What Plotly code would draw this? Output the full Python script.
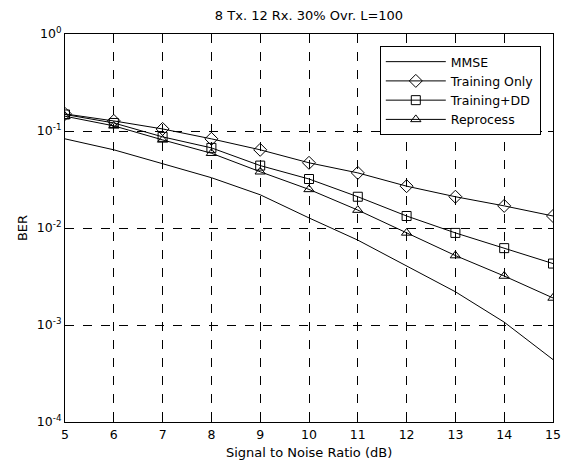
import plotly.graph_objects as go

snr = [5, 6, 7, 8, 9, 10, 11, 12, 13, 14, 15]
mmse = [0.083, 0.064, 0.046, 0.033, 0.022, 0.0127, 0.0075, 0.0041, 0.0022, 0.00107, 0.00044]
training_only = [0.150, 0.127, 0.105, 0.083, 0.064, 0.047, 0.037, 0.027, 0.021, 0.0169, 0.0133]
training_dd = [0.148, 0.121, 0.087, 0.067, 0.044, 0.032, 0.021, 0.0133, 0.0089, 0.0062, 0.0043]
reprocess = [0.142, 0.113, 0.081, 0.059, 0.038, 0.025, 0.0153, 0.0089, 0.0052, 0.0032, 0.0019]

ytick_vals = [1e-4, 1e-3, 1e-2, 1e-1, 1]
ytick_text = ["10<sup>-4</sup>", "10<sup>-3</sup>", "10<sup>-2</sup>", "10<sup>-1</sup>", "10<sup>0</sup>"]
xtick_vals = [5, 6, 7, 8, 9, 10, 11, 12, 13, 14, 15]

font = "DejaVu Sans, Liberation Sans, Arial, sans-serif"
fig = go.Figure()
fig.add_trace(go.Scatter(x=snr, y=mmse, mode="lines", name="MMSE",
                         line=dict(color="black", width=1)))
fig.add_trace(go.Scatter(x=snr, y=training_only, mode="lines+markers", name="Training Only",
                         line=dict(color="black", width=1),
                         marker=dict(symbol="diamond-open", size=10, color="black", line=dict(width=1))))
fig.add_trace(go.Scatter(x=snr, y=training_dd, mode="lines+markers", name="Training+DD",
                         line=dict(color="black", width=1),
                         marker=dict(symbol="square-open", size=9, color="black", line=dict(width=1))))
fig.add_trace(go.Scatter(x=snr, y=reprocess, mode="lines+markers", name="Reprocess",
                         line=dict(color="black", width=1),
                         marker=dict(symbol="triangle-up-open", size=9, color="black", line=dict(width=1))))

fig.update_layout(
    width=566, height=464,
    margin=dict(l=65, r=13, t=34, b=42, autoexpand=False),
    paper_bgcolor="white", plot_bgcolor="white",
    font=dict(family=font, size=12, color="black"),
    title=dict(text="8 Tx. 12 Rx. 30% Ovr. L=100", x=0.5, xref="paper", xanchor="center",
               y=0.966, yanchor="middle",
               font=dict(size=13, family=font, color="black")),
    legend=dict(x=0.975, y=0.969, xanchor="right", yanchor="top",
                bordercolor="black", borderwidth=1, bgcolor="white", itemwidth=60,
                font=dict(size=12.5, family=font), tracegroupgap=0),
    showlegend=True,
    annotations=[
        dict(text="Signal to Noise Ratio (dB)", xref="paper", yref="paper", x=0.5, y=-0.078,
             xanchor="center", yanchor="middle", showarrow=False, font=dict(size=13)),
        dict(text="BER", xref="paper", yref="paper", x=-0.088, y=0.5, textangle=-90,
             xanchor="center", yanchor="middle", showarrow=False, font=dict(size=13)),
    ],
)
fig.update_xaxes(range=[5, 15], tickvals=xtick_vals, showline=True, linecolor="black", linewidth=1,
                 mirror="ticks", ticks="inside", ticklen=5, tickcolor="black",
                 showgrid=True, gridcolor="black", griddash="dash", gridwidth=1,
                 zeroline=False, tickfont=dict(size=12.5), automargin=False,
                 ticklabelstandoff=1)
fig.update_yaxes(type="log", range=[-4, 0], tickvals=ytick_vals, ticktext=ytick_text,
                 showline=True, linecolor="black", linewidth=1,
                 mirror="ticks", ticks="inside", ticklen=5, tickcolor="black",
                 showgrid=True, gridcolor="black", griddash="dash", gridwidth=1,
                 zeroline=False, tickfont=dict(size=12.5), automargin=False)

fig.write_html("out.html", config={"displayModeBar": False},
               post_script="document.body.style.margin='0';")
